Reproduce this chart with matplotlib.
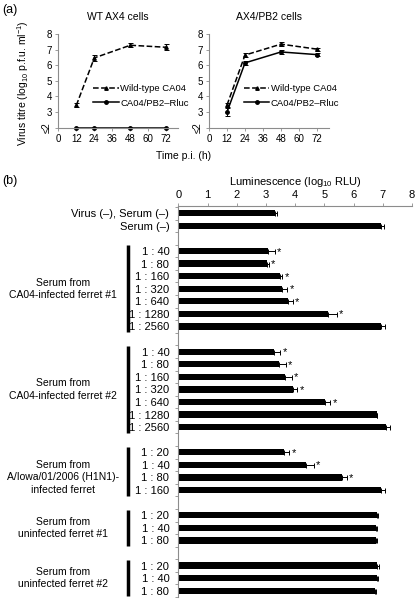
import numpy as np
import matplotlib
matplotlib.use('Agg')
import matplotlib.pyplot as plt

plt.rcParams['font.family'] = ['Liberation Sans', 'DejaVu Sans']
plt.rcParams['mathtext.fontset'] = 'custom'
plt.rcParams['mathtext.rm'] = 'Liberation Sans'
plt.rcParams['mathtext.it'] = 'Liberation Sans:italic'

# ---- panel (a) data ----
hours = [12, 24, 48, 72]
wt_ax4 = [3.43, 6.47, 7.28, 7.15]
wt_ax4_err = [0.12, 0.2, 0.12, 0.2]
rluc_ax4 = [2.0, 2.0, 2.0, 2.0]
rluc_ax4_err = [0.0, 0.0, 0.0, 0.0]
wt_pb2 = [3.45, 6.65, 7.35, 7.03]
wt_pb2_err = [0.15, 0.15, 0.15, 0.1]
rluc_pb2 = [3.0, 6.15, 6.85, 6.68]
rluc_pb2_err = [0.25, 0.12, 0.12, 0.1]
ytick_a = [2, 3, 4, 5, 6, 7, 8]
ytick_a_lab = ['≤2', '3', '4', '5', '6', '7', '8']
xtick_a = [0, 12, 24, 36, 48, 60, 72]

# ---- panel (b) data ----
ctrl_lab = ['Virus (–), Serum (–)', 'Serum (–)']
ctrl_val = [3.3, 6.95]
ctrl_err = [0.08, 0.1]

grp_names = ['Serum from\nCA04-infected ferret #1',
             'Serum from\nCA04-infected ferret #2',
             'Serum from\nA/Iowa/01/2006 (H1N1)-\ninfected ferret',
             'Serum from\nuninfected ferret #1',
             'Serum from\nuninfected ferret #2']
dil_a = ['1 : 40', '1 : 80', '1 : 160', '1 : 320', '1 : 640', '1 : 1280', '1 : 2560']
dil_b = ['1 : 20', '1 : 40', '1 : 80', '1 : 160']
dil_c = ['1 : 20', '1 : 40', '1 : 80']
grp_dil = [dil_a, dil_a, dil_b, dil_c, dil_c]
g1_val = [3.08, 3.02, 3.47, 3.55, 3.77, 5.13, 6.95]
g1_err = [0.22, 0.08, 0.08, 0.17, 0.14, 0.3, 0.14]
g1_sig = [1, 1, 1, 1, 1, 1, 0]
g2_val = [3.28, 3.46, 3.66, 3.91, 5.03, 6.79, 7.12]
g2_err = [0.21, 0.22, 0.23, 0.17, 0.18, 0.0, 0.12]
g2_sig = [1, 1, 1, 1, 1, 0, 0]
g3_val = [3.63, 4.36, 5.61, 6.95]
g3_err = [0.17, 0.27, 0.15, 0.14]
g3_sig = [1, 1, 1, 0]
g4_val = [6.81, 6.77, 6.77]
g4_err = [0.02, 0.02, 0.02]
g4_sig = [0, 0, 0]
g5_val = [6.81, 6.79, 6.75]
g5_err = [0.05, 0.03, 0.02]
g5_sig = [0, 0, 0]
grp_val = [g1_val, g2_val, g3_val, g4_val, g5_val]
grp_err = [g1_err, g2_err, g3_err, g4_err, g5_err]
grp_sig = [g1_sig, g2_sig, g3_sig, g4_sig, g5_sig]

fig = plt.figure(figsize=(4.16, 5.99), dpi=100)
spcol = '#8c8c8c'

def style_a(ax, title):
    ax.set_xlim(0, 80)
    ax.set_ylim(2, 8)
    ax.spines['top'].set_visible(False)
    ax.spines['right'].set_visible(False)
    for s in ['left', 'bottom']:
        ax.spines[s].set_color(spcol)
        ax.spines[s].set_linewidth(0.8)
    ax.set_xticks(xtick_a)
    ax.set_yticks(ytick_a)
    ax.set_yticklabels(ytick_a_lab)
    ax.get_yticklabels()[0].set_rotation(90)
    ax.get_yticklabels()[0].set_verticalalignment('center')
    ax.tick_params(labelsize=7, length=2.5, width=0.6, color=spcol, pad=2)
    ax.set_title(title, fontsize=7.5, pad=10)

axL = fig.add_axes([58.3/416, 1-127.7/599, 120/416, 93.7/599])
axR = fig.add_axes([209/416, 1-127.7/599, 120/416, 93.7/599])

for ax, wt, wte, rl, rle, title in [(axL, wt_ax4, wt_ax4_err, rluc_ax4, rluc_ax4_err, 'WT AX4 cells'),
                                     (axR, wt_pb2, wt_pb2_err, rluc_pb2, rluc_pb2_err, 'AX4/PB2 cells')]:
    ax.errorbar(hours, wt, yerr=wte, fmt='none', ecolor='k', capsize=1.8,
                elinewidth=0.7, capthick=0.7, clip_on=False)
    ax.errorbar(hours, rl, yerr=rle, fmt='none', ecolor='k', capsize=1.8,
                elinewidth=0.7, capthick=0.7, clip_on=False)
    ax.plot(hours, wt, color='k', ls='--', lw=1.1, marker='^', ms=2.5,
            label='Wild-type CA04', clip_on=False)
    ax.plot(hours, rl, color='k', ls='-', lw=1.1, marker='o', ms=2.5,
            label='CA04/PB2–Rluc', clip_on=False)
    style_a(ax, title)
    ax.legend(loc='center left', bbox_to_anchor=(0.29, 0.34), frameon=False, fontsize=6.8,
              handlelength=2.7, handletextpad=0.15, labelspacing=0.6, borderpad=0,
              borderaxespad=0, numpoints=1)

axL.set_ylabel('Virus titre (log$_{10}$ p.f.u. ml$^{-1}$)', fontsize=7.5)
axL.yaxis.set_label_coords(-0.225, 0.48)
fig.text(184/416, 1-156/599, 'Time p.i. (h)', fontsize=7.5, ha='center', va='center')
fig.text(2/416, 1-10/599, '(a)', fontsize=9, ha='left', va='center')
fig.text(2/416, 1-181/599, '(b)', fontsize=9, ha='left', va='center')

# ---- panel (b) ----
axB = fig.add_axes([178.3/416, 1-597/599, 233.7/416, (597-205.7)/599])
rows = []
labels = []
vals = []
errs = []
sigs = []
r = 0
for lab, v, e in zip(ctrl_lab, ctrl_val, ctrl_err):
    rows.append(r); labels.append(lab); vals.append(v); errs.append(e); sigs.append(0)
    r += 1
grp_rows = []
for dl, gv, ge, gs in zip(grp_dil, grp_val, grp_err, grp_sig):
    r += 1
    start = r
    for lab, v, e, s in zip(dl, gv, ge, gs):
        rows.append(r); labels.append(lab); vals.append(v); errs.append(e); sigs.append(s)
        r += 1
    grp_rows.append((start, r - 1))

rows = np.array(rows)
vals = np.array(vals)
errs = np.array(errs)
axB.barh(rows, vals, height=0.5, color='k')
axB.errorbar(vals, rows, xerr=[np.zeros_like(errs), errs], fmt='none', ecolor='k',
             elinewidth=0.7, capsize=1.8, capthick=0.7)
for y, v, e, s in zip(rows, vals, errs, sigs):
    if s:
        axB.text(v + e + 0.08, y + 0.05, '*', fontsize=8, ha='left', va='center')

axB.set_xlim(0, 8)
axB.set_ylim(30.5, -0.6)
axB.xaxis.tick_top()
axB.xaxis.set_label_position('top')
axB.set_xticks(range(9))
axB.set_xlabel('Luminescence (log$_{10}$ RLU)', fontsize=8, labelpad=4)
axB.set_yticks(rows)
axB.set_yticklabels(labels)
axB.set_yticks(np.arange(-0.5, 30.6, 1.0), minor=True)
axB.tick_params(axis='y', which='major', length=0, pad=6.5, labelsize=8)
axB.tick_params(axis='y', which='minor', length=2.5, width=0.6, color=spcol)
axB.tick_params(axis='x', length=2.5, width=0.6, color=spcol, labelsize=8, pad=1.5)
axB.spines['bottom'].set_visible(False)
axB.spines['right'].set_visible(False)
for s in ['left', 'top']:
    axB.spines[s].set_color(spcol)
    axB.spines[s].set_linewidth(0.8)

unit = 233.7 / 8.0
for (a, b), name in zip(grp_rows, grp_names):
    axB.plot([-50.6/unit, -50.6/unit], [a - 0.45, b + 0.45], color='k', lw=2.5, clip_on=False,
             solid_capstyle='butt')
    mid = (a + b) / 2.0
    if name.count('\n') == 2:
        mid = mid + 0.5
    axB.text(-115.3/unit, mid, name, fontsize=7.5, ha='center', va='center',
             multialignment='center', linespacing=1.3, clip_on=False)

fig.savefig('out.png', dpi=100)
